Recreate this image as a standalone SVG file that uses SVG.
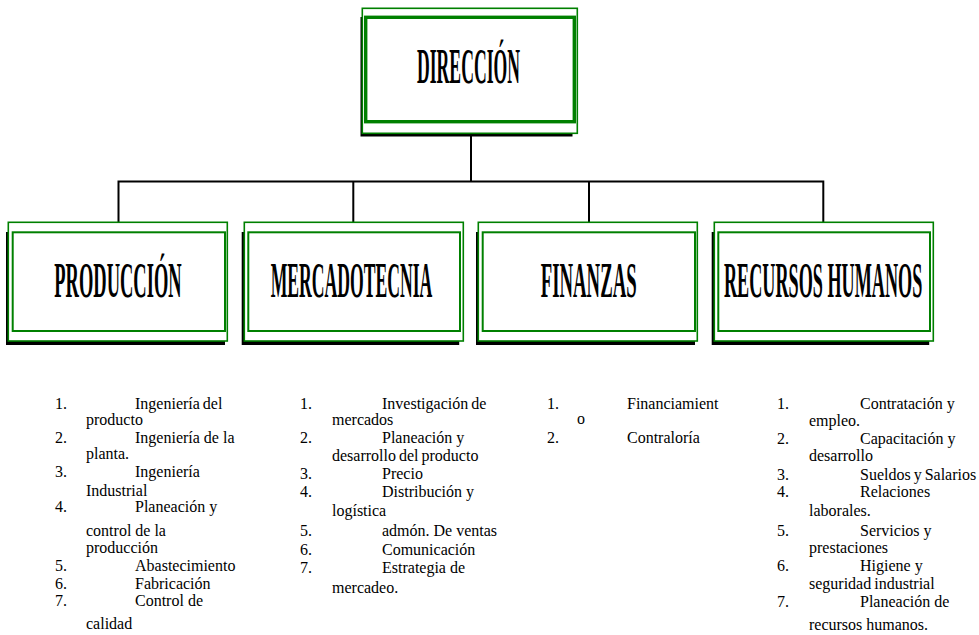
<svg xmlns="http://www.w3.org/2000/svg" width="979" height="635" viewBox="0 0 979 635">
<style>
.shadow{fill:#000;stroke:none}
.outer{fill:#fff;stroke:#008000;stroke-width:1.6}
.inner{fill:none;stroke:#008000;stroke-width:2}
.innerTop{fill:none;stroke:#008000;stroke-width:3.4}
.title{font-family:"Liberation Serif","Times New Roman",serif;font-weight:bold;font-size:50px;fill:#000}
.conn{fill:none;stroke:#000;stroke-width:2}
.li{font-family:"Liberation Serif","Times New Roman",serif;font-size:16px;fill:#000}
.tight{word-spacing:-1px}
</style>
<rect width="979" height="635" fill="#fff"/>
<g id="connectors">
<path class="conn" d="M471,133 V181.5 M118.5,222 V181.5 H823.3 V222 M353.3,181.5 V222 M589,181.5 V222"/>
</g>
<g id="direccion">
<rect class="shadow" x="360.5" y="17" width="212" height="119.5"/>
<rect class="outer" x="362.3" y="8.3" width="215" height="125"/>
<rect class="innerTop" x="365.7" y="17.3" width="208.6" height="104.4"/>
<text class="title" transform="translate(417,83.3) scale(0.346,1)" font-size="51" textLength="297.7" lengthAdjust="spacingAndGlyphs">DIRECCIÓN</text>
</g>
<g id="produccion">
<rect class="shadow" x="6" y="232" width="219" height="113"/>
<rect class="outer" x="8.3" y="222.3" width="219" height="118.7"/>
<rect class="inner" x="12.7" y="232.3" width="212.3" height="98.7"/>
<text class="title" transform="translate(54.3,296.7) scale(0.37,1)" textLength="344.1" lengthAdjust="spacingAndGlyphs">PRODUCCIÓN</text>
</g>
<g id="mercadotecnia">
<rect class="shadow" x="241.7" y="232" width="217.5" height="113"/>
<rect class="outer" x="244.3" y="222.3" width="219" height="118.7"/>
<rect class="inner" x="248.3" y="232.3" width="211.7" height="98.7"/>
<text class="title" transform="translate(270.7,296.7) scale(0.3526,1)" textLength="458.3" lengthAdjust="spacingAndGlyphs">MERCADOTECNIA</text>
</g>
<g id="finanzas">
<rect class="shadow" x="476" y="232" width="219" height="113"/>
<rect class="outer" x="478.3" y="222.3" width="219" height="118.7"/>
<rect class="inner" x="482.7" y="232.3" width="212.3" height="98.7"/>
<text class="title" transform="translate(540.7,296.7) scale(0.3756,1)" textLength="255.6" lengthAdjust="spacingAndGlyphs">FINANZAS</text>
</g>
<g id="recursos-humanos">
<rect class="shadow" x="711.7" y="232" width="217.5" height="113"/>
<rect class="outer" x="714.3" y="222.3" width="219" height="118.7"/>
<rect class="inner" x="718.3" y="232.3" width="211.7" height="98.7"/>
<text class="title" transform="translate(724,296.7) scale(0.3633,1)" textLength="545.8" lengthAdjust="spacingAndGlyphs">RECURSOS HUMANOS</text>
</g>
<g id="lista-produccion" class="li">
<text x="55" y="409">1.</text><text class="tight" x="135" y="409">Ingeniería del</text>
<text x="86" y="425">producto</text>
<text x="55" y="443">2.</text><text x="135" y="443">Ingeniería de la</text>
<text x="86" y="459">planta.</text>
<text x="55" y="477">3.</text><text x="135" y="477">Ingeniería</text>
<text x="86" y="496">Industrial</text>
<text x="55" y="512">4.</text><text x="135" y="512">Planeación y</text>
<text x="86" y="536">control de la</text>
<text x="86" y="553">producción</text>
<text x="55" y="571">5.</text><text x="135" y="571">Abastecimiento</text>
<text x="55" y="589">6.</text><text x="135" y="589">Fabricación</text>
<text x="55" y="606">7.</text><text x="135" y="606">Control de</text>
<text x="86" y="629">calidad</text>
</g>
<g id="lista-mercadotecnia" class="li">
<text x="300" y="409">1.</text><text class="tight" x="382" y="409">Investigación de</text>
<text x="332" y="425">mercados</text>
<text x="300" y="443">2.</text><text x="382" y="443">Planeación y</text>
<text class="tight" x="332" y="461">desarrollo del producto</text>
<text x="300" y="479">3.</text><text x="382" y="479">Precio</text>
<text x="300" y="497">4.</text><text x="382" y="497">Distribución y</text>
<text x="332" y="516">logística</text>
<text x="300" y="536">5.</text><text x="382" y="536">admón. De ventas</text>
<text x="300" y="555">6.</text><text x="382" y="555">Comunicación</text>
<text x="300" y="573">7.</text><text x="382" y="573">Estrategia de</text>
<text x="332" y="593">mercadeo.</text>
</g>
<g id="lista-finanzas" class="li">
<text x="547" y="409">1.</text><text x="627" y="409">Financiamient</text>
<text x="577" y="424">o</text>
<text x="547" y="443">2.</text><text x="627" y="443">Contraloría</text>
</g>
<g id="lista-recursos-humanos" class="li">
<text x="777" y="409">1.</text><text x="860" y="409">Contratación y</text>
<text x="809" y="426">empleo.</text>
<text x="777" y="444">2.</text><text x="860" y="444">Capacitación y</text>
<text x="809" y="461">desarrollo</text>
<text x="777" y="480">3.</text><text class="tight" x="860" y="480">Sueldos y Salarios</text>
<text x="777" y="497">4.</text><text x="860" y="497">Relaciones</text>
<text x="809" y="516">laborales.</text>
<text x="777" y="536">5.</text><text x="860" y="536">Servicios y</text>
<text x="809" y="553">prestaciones</text>
<text x="777" y="571">6.</text><text x="860" y="571">Higiene y</text>
<text class="tight" x="809" y="589">seguridad industrial</text>
<text x="777" y="607">7.</text><text x="860" y="607">Planeación de</text>
<text x="809" y="630">recursos humanos.</text>
</g>
</svg>
